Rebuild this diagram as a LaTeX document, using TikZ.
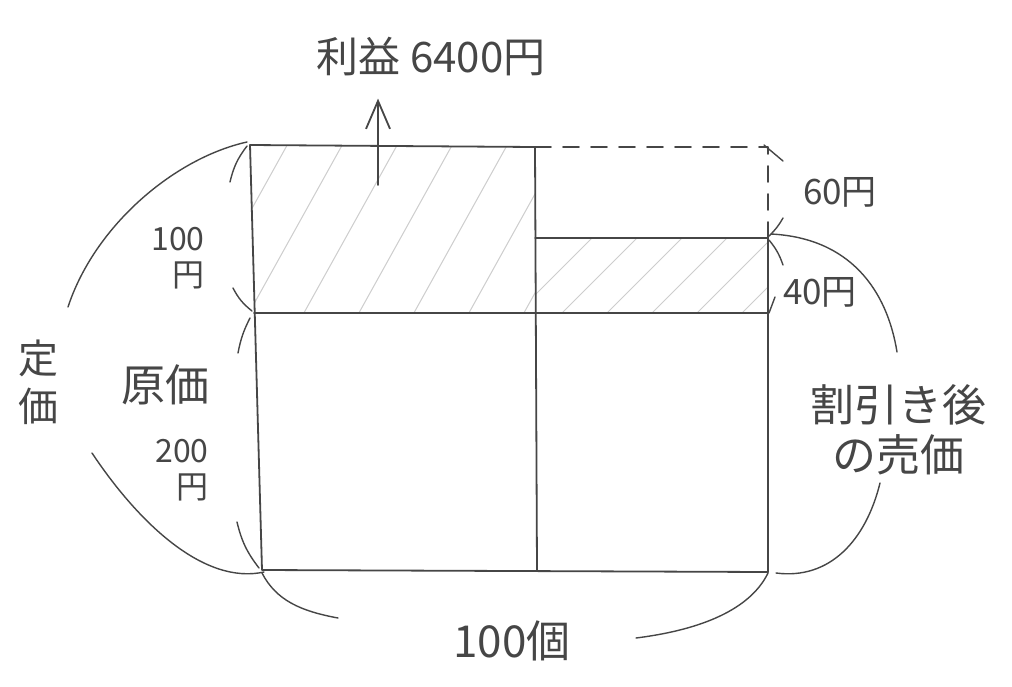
\documentclass[tikz,border=0pt]{standalone}
\usepackage{fontspec}
\newfontfamily\jp{Noto Sans CJK JP}
\usepackage{xcolor}
\usetikzlibrary{arrows.meta}
\definecolor{pencil}{RGB}{70,70,70}
\definecolor{lightpencil}{RGB}{205,205,205}

\begin{document}
\begin{tikzpicture}[x=1pt,y=-1pt,line cap=round,line join=round,
	edge/.style={pencil,line width=1.8pt},
	curve/.style={pencil,line width=1.4pt},
	hatch/.style={lightpencil,line width=1pt},
	lbl/.style={pencil,inner sep=0pt,font=\jp\fontsize{32}{36}\selectfont},
	biglbl/.style={lbl,font=\jp\fontsize{44}{50}\selectfont}]
	\useasboundingbox (0,0) rectangle (1012,686);
	\fill[white] (0,0) rectangle (1012,686);
	\coordinate (TL) at (250,145);
	\coordinate (TM) at (535,147);
	\coordinate (TR) at (768,147);
	\coordinate (SM) at (535,238);
	\coordinate (SR) at (768,238);
	\coordinate (ML) at (254,313);
	\coordinate (MM) at (535,313);
	\coordinate (MR) at (768,313);
	\coordinate (BL) at (262,570);
	\coordinate (BM) at (537,570);
	\coordinate (BR) at (768,572);
	\coordinate (up) at (378,185);

	\begin{scope}
		\clip (TL) -- (TM) -- (MM) -- (ML) -- cycle;
		\foreach \i in {0,...,9} \draw[hatch] (190+55*\i,320) -- +(100,-180);
	\end{scope}
	\begin{scope}
		\clip (SM) -- (SR) -- (MR) -- (MM) -- cycle;
		\foreach \i in {0,...,6} \draw[hatch] (510+45*\i,320) -- +(85,-85);
	\end{scope}

	\draw[edge] (BM) -- (TM) -- (TL) -- (BL) -- (BR) -- (SR) -- (SM);
	\draw[edge] (ML) -- (MR);
	\draw[edge,dash pattern=on 16pt off 12pt] (TM) -- (TR) -- (SR);

	\node[lbl,font=\jp\fontsize{42}{46}\selectfont] (profit) at (431,57) {利益 6400円};
	\draw[edge,-{Straight Barb[length=28pt,width=24pt,line width=1.8pt]}] (up) -- ([yshift=-22pt]up |- profit.south);

	\draw[curve] (230,182) to[bend left=12] (247,146);
	\draw[curve] (233,288) to[bend right=12] (252,311);
	\draw[curve] (238,353) to[bend left=8] (250,318);
	\draw[curve] (237,522) to[bend right=12] (259,568);
	\draw[curve] (68,307) .. controls (95,225) and (175,158) .. (247,142);
	\draw[curve] (92,453) .. controls (140,525) and (205,585) .. (264,572);
	\node[lbl,align=center,font=\jp\fontsize{40}{48}\selectfont] (teika) at (38,382) {定\\価};
	\node[lbl,align=right] (hundred) at (178,258) {100\\円};
	\node[biglbl] (genka) at (165,385) {原価};
	\node[lbl,align=right] (twohundred) at (182,470) {200\\円};

	\draw[curve] (764,145) -- (783,161);
	\draw[curve] (783,218) to[bend left=8] (769,236);
	\draw[curve] (769,240) to[bend left=10] (783,265);
	\draw[curve] (775,297) -- (769,313);
	\node[lbl,font=\jp\fontsize{35}{40}\selectfont] (sixty) at (840,192) {60円};
	\node[lbl,font=\jp\fontsize{35}{40}\selectfont] (forty) at (820,292) {40円};
	\draw[curve] (771,234) .. controls (850,238) and (887,290) .. (897,352);
	\draw[curve] (880,483) .. controls (866,540) and (830,580) .. (776,573);
	\node[biglbl,align=center] (waribiki) at (898,430) {割引き後\\の売価};

	\draw[curve] (262,573) .. controls (276,600) and (300,611) .. (338,618);
	\draw[curve] (636,638) .. controls (700,630) and (750,610) .. (768,573);
	\node[biglbl] (count) at (512,641) {100個};
\end{tikzpicture}
\end{document}
